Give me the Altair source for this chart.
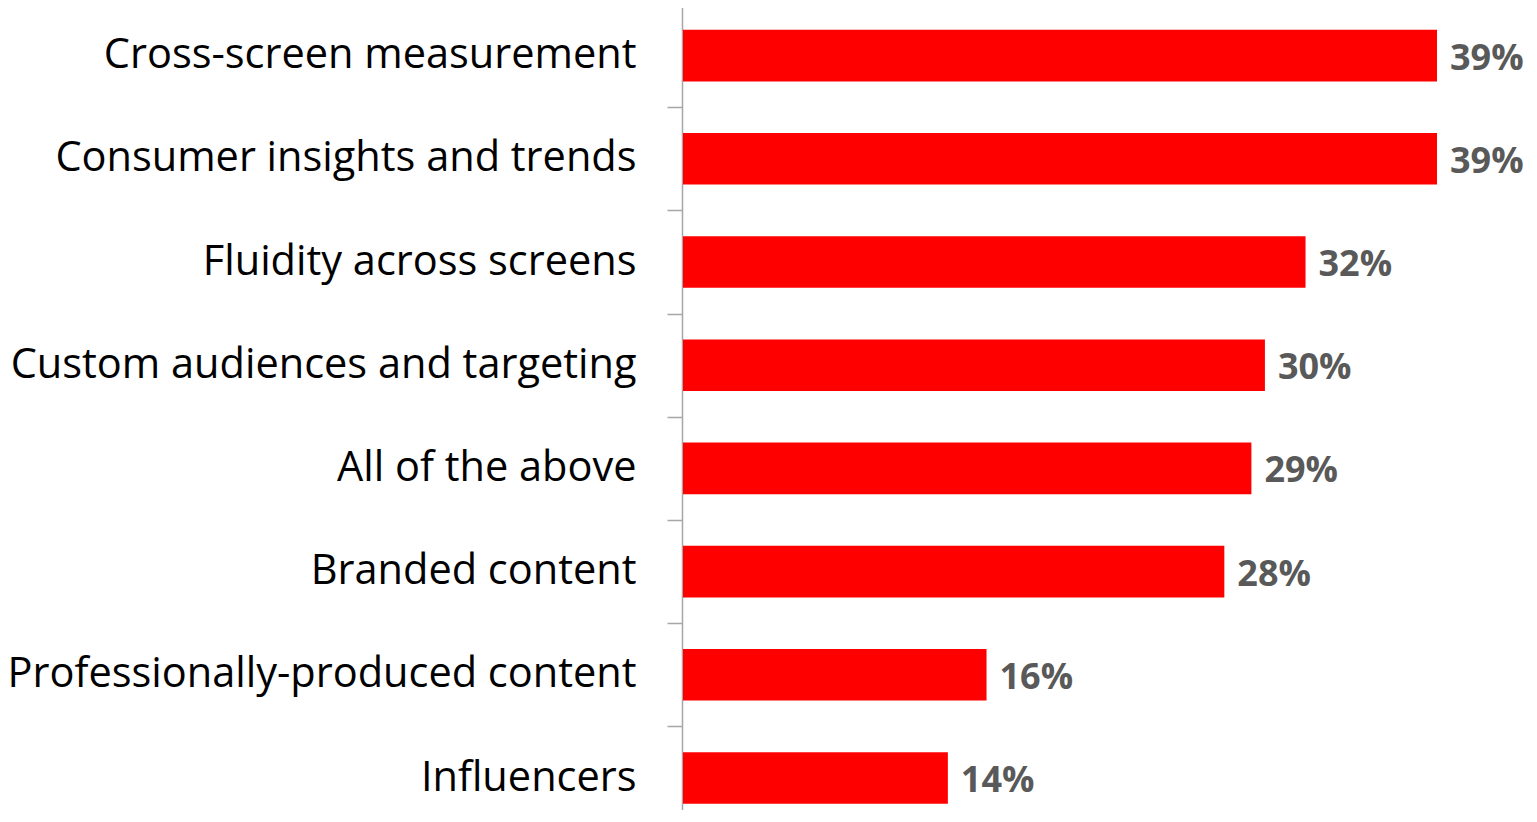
import altair as alt
import pandas as pd

categories = [
    "Cross-screen measurement",
    "Consumer insights and trends",
    "Fluidity across screens",
    "Custom audiences and targeting",
    "All of the above",
    "Branded content",
    "Professionally-produced content",
    "Influencers",
]
values = [39.0, 39.0, 32.2, 30.1, 29.4, 28.0, 15.7, 13.7]

df = pd.DataFrame({"category": categories, "value": values})

y_enc = alt.Y(
    "category:N",
    sort=categories,
    scale=alt.Scale(range=[-4, 821.6], paddingInner=0, paddingOuter=0),
    axis=alt.Axis(
        title=None,
        domainColor="#A6A6A6",
        domainWidth=1.5,
        tickColor="#A6A6A6",
        tickWidth=1.5,
        tickSize=15,
        tickBand="extent",
        labelPadding=31,
        labelFont="Open Sans",
        labelFontSize=41.5,
        labelColor="#000000",
        labelLimit=1000,
    ),
)
x_enc = alt.X(
    "value:Q",
    scale=alt.Scale(domain=[0, 39], range=[1, 755], nice=False, zero=True),
    axis=None,
)

bars = alt.Chart(df).mark_bar(color="#FF0000", height={"band": 0.5}).encode(
    x=x_enc, y=y_enc
)

labels = (
    alt.Chart(df)
    .transform_calculate(label="format(datum.value, '.0f') + '%'")
    .mark_text(
        align="left",
        baseline="middle",
        dx=13,
        dy=3,
        font="Open Sans",
        fontWeight="bold",
        fontSize=36,
        color="#595959",
    )
    .encode(x=x_enc, y=alt.Y("category:N", sort=categories), text="label:N")
)

chart = (
    alt.layer(bars, labels)
    .properties(
        width=846,
        height=802,
        autosize=alt.AutoSizeParams(type="none"),
        padding={"left": 674, "top": 0, "right": 0, "bottom": 0},
    )
    .configure_view(stroke=None)
)

chart.save("out.html", embed_options={"renderer": "svg", "actions": False})
